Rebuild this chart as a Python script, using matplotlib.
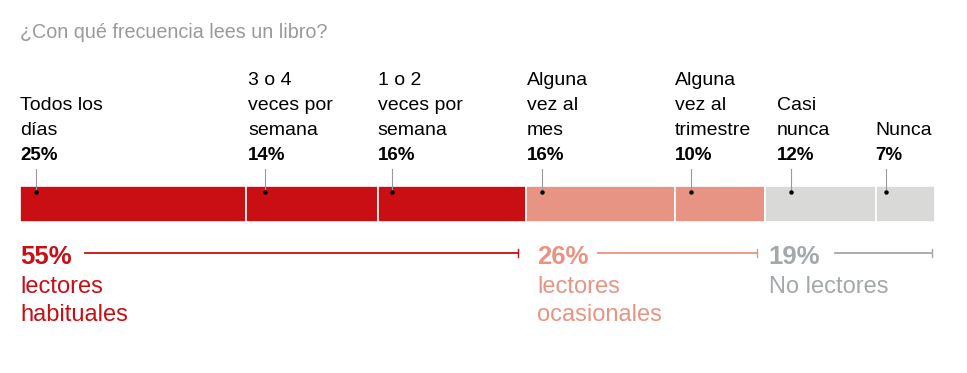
import numpy as np
import matplotlib.pyplot as plt

# data
categorias = [["Todos los", "días"], ["3 o 4", "veces por", "semana"],
              ["1 o 2", "veces por", "semana"], ["Alguna", "vez al", "mes"],
              ["Alguna", "vez al", "trimestre"], ["Casi", "nunca"], ["Nunca"]]
valores = [24.7, 14.4, 16.2, 16.3, 9.8, 12.1, 6.5]
pct_labels = ["25%", "14%", "16%", "16%", "10%", "12%", "7%"]
grupo = [0, 0, 0, 1, 1, 2, 2]

grupos_pct = ["55%", "26%", "19%"]
grupos_txt = [["lectores", "habituales"], ["lectores", "ocasionales"], ["No lectores"]]

colores = ["#C90E14", "#E89484", "#D9D9D8"]
colores_txt = ["#C90E14", "#E89484", "#A3A8AB"]

base = "Liberation Sans"

W, H = 967, 373
fig = plt.figure(figsize=(W / 100, H / 100), dpi=100)
x0, x1 = 20, 935
ax = fig.add_axes([x0 / W, 0, (x1 - x0) / W, 1])
ax.set_xlim(0, 100)
ax.set_ylim(H, 0)
ax.axis("off")
ppx = 100 / (x1 - x0)  # percent per pixel

izq = np.concatenate([[0], np.cumsum(valores)[:-1]])
ax.barh(204, valores, left=izq, height=36,
        color=[colores[g] for g in grupo], edgecolor="white", linewidth=1.2)

label_off = [0, 2, 0, 1, 0, 12, 0]
dot_off = [16, 19, 14, 16, 16, 26, 10]
for i in range(len(valores)):
    lx = izq[i] + label_off[i] * ppx
    ax.text(lx, 160, pct_labels[i], fontsize=13.5, fontweight="bold",
            family=base, va="baseline", ha="left", color="black")
    lines = categorias[i]
    for k, ln in enumerate(reversed(lines)):
        ax.text(lx, 135 - 25 * k, ln, fontsize=14, family=base,
                va="baseline", ha="left", color="black")
    dx = izq[i] + dot_off[i] * ppx
    ax.plot([dx, dx], [169, 192], color="#9a9a9a", lw=0.8)
    ax.plot(dx, 192, "o", color="black", ms=2.2)

# grupos
ends = np.cumsum([sum(v for v, g in zip(valores, grupo) if g == j) for j in range(3)])
starts = np.concatenate([[0], ends[:-1]])
txt_off = [0, 11, 4]
line_start = [85, 598, 835]
for j in range(3):
    tx = starts[j] + txt_off[j] * ppx
    ax.text(tx, 264, grupos_pct[j], fontsize=18.5, fontweight="bold", family=base,
            color=colores_txt[j], va="baseline", ha="left")
    for k, ln in enumerate(grupos_txt[j]):
        ax.text(tx, 293 + 28 * k, ln, fontsize=17, family=base,
                color=colores_txt[j], va="baseline", ha="left")
    xs = (line_start[j] - x0) * ppx
    xe = ends[j] - 8 * ppx if j < 2 else ends[j] - 3 * ppx
    ax.plot([xs, xe], [253, 253], color=colores_txt[j], lw=1.3)
    ax.plot([xe, xe], [249, 257], color=colores_txt[j], lw=1.0)

fig.text(20 / W, 1 - 38 / H, "¿Con qué frecuencia lees un libro?", fontsize=14.2,
         family=base, color="#9a9a9a", va="baseline", ha="left")

fig.savefig("out.png", dpi=100)
